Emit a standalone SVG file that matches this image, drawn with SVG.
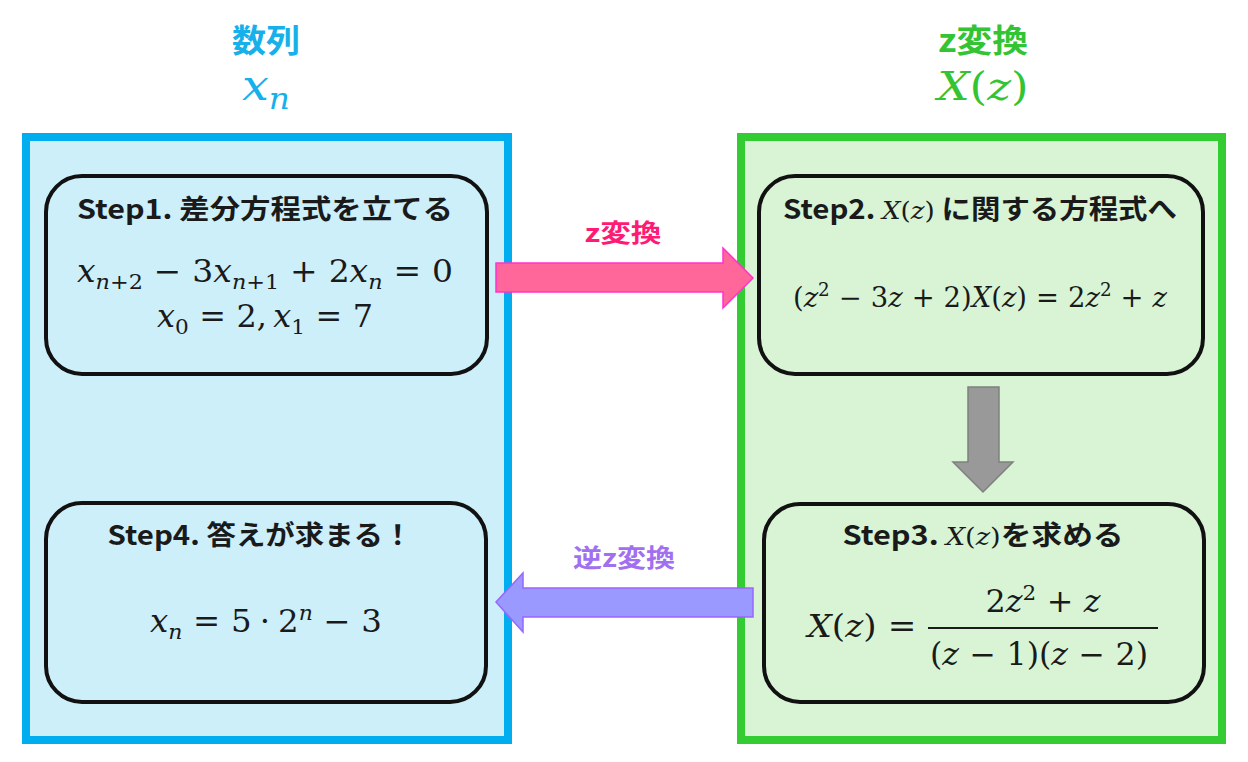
<svg xmlns="http://www.w3.org/2000/svg" width="1248" height="762" viewBox="0 0 1248 762">
<style>
.ttl{font-family:"Noto Sans CJK JP","Noto Sans",sans-serif;font-weight:bold;font-size:27px;fill:#1a1a1a;text-anchor:middle}
.m{font-family:"DejaVu Serif","Liberation Serif",serif;fill:#1a1a1a;text-anchor:middle}
.i{font-style:italic}
.mi{font-family:"DejaVu Serif","Liberation Serif",serif;font-weight:normal}
.box{stroke:#111;stroke-width:4}
.hdr{font-family:"Noto Sans CJK JP",sans-serif;font-weight:bold;text-anchor:middle}
.lbl{font-family:"Noto Sans CJK JP",sans-serif;font-weight:bold;font-size:25px;text-anchor:middle}
</style>
<rect width="1248" height="762" fill="#fff"/>
<g id="left-panel">
<rect x="26" y="137" width="482" height="603" fill="#cdeffa" stroke="#00aeef" stroke-width="8"/>
<text class="hdr" x="266" y="52" font-size="32" fill="#16b0ea" textLength="68" lengthAdjust="spacingAndGlyphs">数列</text>
<text class="m" x="266" y="100" font-size="42" style="fill:#16b0ea" textLength="48" lengthAdjust="spacingAndGlyphs"><tspan class="i">x</tspan><tspan class="i" font-size="29" dy="9">n</tspan></text>
</g>
<g id="right-panel">
<rect x="741" y="137" width="481" height="603" fill="#d8f4d5" stroke="#33cc33" stroke-width="8"/>
<text class="hdr" x="983" y="52" font-size="32" fill="#33c433" textLength="90" lengthAdjust="spacingAndGlyphs">z変換</text>
<text class="m" x="983" y="100" font-size="40" style="fill:#33c433" textLength="91" lengthAdjust="spacingAndGlyphs"><tspan class="i">X</tspan>(<tspan class="i">z</tspan>)</text>
</g>
<g id="step1">
<rect class="box" x="46" y="176" width="441" height="198" rx="36" fill="#cdeffa"/>
<text class="ttl" x="265" y="219" textLength="376" lengthAdjust="spacingAndGlyphs">Step1. 差分方程式を立てる</text>
<text class="m" x="265" y="282" font-size="31" textLength="376" lengthAdjust="spacingAndGlyphs"><tspan class="i">x</tspan><tspan class="i" font-size="21" dy="7">n</tspan><tspan font-size="21">+2</tspan><tspan dy="-7">&#8196;−&#8196;3</tspan><tspan class="i">x</tspan><tspan class="i" font-size="21" dy="7">n</tspan><tspan font-size="21">+1</tspan><tspan dy="-7">&#8196;+&#8196;2</tspan><tspan class="i">x</tspan><tspan class="i" font-size="21" dy="7">n</tspan><tspan dy="-7">&#8196;=&#8196;0</tspan></text>
<text class="m" x="265" y="327" font-size="31" textLength="216" lengthAdjust="spacingAndGlyphs"><tspan class="i">x</tspan><tspan font-size="21" dy="7">0</tspan><tspan dy="-7">&#8196;=&#8196;2,&#8201;</tspan><tspan class="i">x</tspan><tspan font-size="21" dy="7">1</tspan><tspan dy="-7">&#8196;=&#8196;7</tspan></text>
</g>
<g id="step2">
<rect class="box" x="759" y="176" width="444" height="198" rx="36" fill="#d8f4d5"/>
<text class="ttl" x="980" y="219" textLength="394" lengthAdjust="spacingAndGlyphs">Step2. <tspan class="i mi" font-size="24">X</tspan><tspan class="mi" font-size="24">(<tspan class="i">z</tspan>)</tspan> に関する方程式へ</text>
<text class="m" x="980" y="307" font-size="27" textLength="374" lengthAdjust="spacingAndGlyphs">(<tspan class="i">z</tspan><tspan font-size="18" dy="-11">2</tspan><tspan dy="11">&#8196;−&#8196;3</tspan><tspan class="i">z</tspan>&#8196;+&#8196;2)<tspan class="i">X</tspan>(<tspan class="i">z</tspan>)&#8196;=&#8196;2<tspan class="i">z</tspan><tspan font-size="18" dy="-11">2</tspan><tspan dy="11">&#8196;+&#8196;</tspan><tspan class="i">z</tspan></text>
</g>
<g id="step3">
<rect class="box" x="764" y="504" width="440" height="198" rx="36" fill="#d8f4d5"/>
<text class="ttl" x="983" y="545" textLength="281" lengthAdjust="spacingAndGlyphs">Step3. <tspan class="i mi" font-size="24">X</tspan><tspan class="mi" font-size="24">(<tspan class="i">z</tspan>)</tspan>を求める</text>
<text class="m" x="862" y="637" font-size="31" textLength="109" lengthAdjust="spacingAndGlyphs"><tspan class="i">X</tspan>(<tspan class="i">z</tspan>)&#8196;=</text>
<text class="m" x="1043" y="612" font-size="31" textLength="115" lengthAdjust="spacingAndGlyphs">2<tspan class="i">z</tspan><tspan font-size="21" dy="-12">2</tspan><tspan dy="12">&#8196;+&#8196;</tspan><tspan class="i">z</tspan></text>
<line x1="928" y1="628" x2="1158" y2="628" stroke="#1a1a1a" stroke-width="2"/>
<text class="m" x="1039" y="665" font-size="31" textLength="218" lengthAdjust="spacingAndGlyphs">(<tspan class="i">z</tspan>&#8196;−&#8196;1)(<tspan class="i">z</tspan>&#8196;−&#8196;2)</text>
</g>
<g id="step4">
<rect class="box" x="46" y="503" width="440" height="199" rx="36" fill="#cdeffa"/>
<text class="ttl" x="260" y="545" textLength="305" lengthAdjust="spacingAndGlyphs">Step4. 答えが求まる！</text>
<text class="m" x="266" y="632" font-size="31" textLength="232" lengthAdjust="spacingAndGlyphs"><tspan class="i">x</tspan><tspan class="i" font-size="21" dy="7">n</tspan><tspan dy="-7">&#8196;=&#8196;5&#8197;·&#8197;2</tspan><tspan class="i" font-size="21" dy="-12">n</tspan><tspan dy="12">&#8196;−&#8196;3</tspan></text>
</g>
<g id="connectors">
<polygon points="496,263 723,263 723,248 753,278 723,308 723,292 496,292" fill="#ff6699" stroke="#ff33cc" stroke-width="1.5"/>
<text class="lbl" x="623" y="242" fill="#ff1a75" textLength="77" lengthAdjust="spacingAndGlyphs">z変換</text>
<polygon points="753,588 523,588 523,573 496,602 523,632 523,617 753,617" fill="#9999ff" stroke="#9966ff" stroke-width="1.5"/>
<text class="lbl" x="624" y="567" fill="#a070f0" textLength="102" lengthAdjust="spacingAndGlyphs">逆z変換</text>
<polygon points="968,387 999,387 999,462 1013,462 983,492 953,462 968,462" fill="#999999" stroke="#808080" stroke-width="1.5"/>
</g>
</svg>
